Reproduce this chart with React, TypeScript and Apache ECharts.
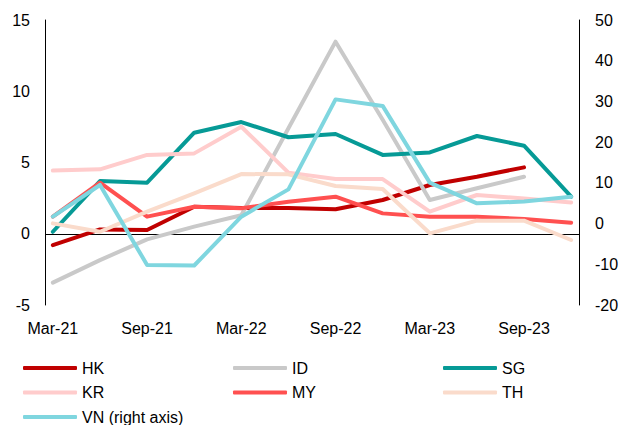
import React, { useEffect, useRef } from "react";
import * as echarts from "echarts";

const quarters = ["Mar-21","Jun-21","Sep-21","Dec-21","Mar-22","Jun-22","Sep-22","Dec-22","Mar-23","Jun-23","Sep-23","Dec-23"];
const monthNames = ["Jan","Feb","Mar","Apr","May","Jun","Jul","Aug","Sep","Oct","Nov","Dec"];

const HK = [-0.8, 0.3, 0.26, 1.9, 1.8, 1.8, 1.72, 2.37, 3.42, 4.0, 4.66, null];
const ID = [-3.43, -1.85, -0.39, 0.5, 1.3, 7.4, 13.48, 8.0, 2.37, 3.19, 4.0, null];
const SG = [0.14, 3.7, 3.58, 7.09, 7.84, 6.77, 7.0, 5.53, 5.71, 6.86, 6.18, 2.6];
const KR = [4.43, 4.52, 5.53, 5.64, 7.51, 4.29, 3.84, 3.84, 1.55, 2.72, 2.48, 2.2];
const MY = [1.2, 3.58, 1.2, 1.9, 1.79, 2.25, 2.6, 1.43, 1.2, 1.2, 1.04, 0.78];
const TH = [0.73, 0.14, 1.55, 2.84, 4.19, 4.17, 3.35, 3.14, 0.03, 0.92, 0.92, -0.44];
const VN = [1.7, 9.48, -10.17, -10.3, 1.7, 8.4, 30.5, 28.9, 10.05, 4.98, 5.4, 6.6];

const leftTicks = { min: -5, max: 15, interval: 5 };
const rightTicks = { min: -20, max: 50, interval: 10 };

// Monthly category axis from Mar-21 to Dec-23; quarterly values on quarter-end months.
const months: string[] = [];
for (let y = 21; y <= 23; y++) {
  for (let m = 0; m < 12; m++) {
    if (y === 21 && m < 2) continue;
    months.push(`${monthNames[m]}-${y}`);
  }
}
const toMonthly = (vals: (number | null)[]) =>
  months.map((mn) => {
    const qi = quarters.indexOf(mn);
    return qi >= 0 ? vals[qi] : null;
  });

const FONT = "'Liberation Sans', Arial, sans-serif";

const seriesDefs = [
  { name: "HK", data: HK, color: "#C00000", axis: 0 },
  { name: "ID", data: ID, color: "#C9C9C9", axis: 0 },
  { name: "SG", data: SG, color: "#069A96", axis: 0 },
  { name: "KR", data: KR, color: "#FFCCCC", axis: 0 },
  { name: "MY", data: MY, color: "#FF5050", axis: 0 },
  { name: "TH", data: TH, color: "#FADBCB", axis: 0 },
  { name: "VN (right axis)", data: VN, color: "#7FD6DF", axis: 1 },
];

export default function App() {
  const ref = useRef<HTMLDivElement>(null);
  useEffect(() => {
    if (!ref.current) return;
    const chart = echarts.init(ref.current, undefined, { renderer: "svg" });
    const legendBase = {
      orient: "vertical" as const,
      top: 360,
      icon: "roundRect",
      itemWidth: 54,
      itemHeight: 4,
      itemGap: 8.5,
      textStyle: { fontFamily: FONT, fontSize: 16, color: "#000", lineHeight: 16 },
      padding: 0,
    };
    chart.setOption({
      animation: false,
      grid: { left: 45, right: 50, top: 20, bottom: 120, containLabel: false },
      legend: [
        { ...legendBase, left: 23, data: ["HK", "KR", "VN (right axis)"] },
        { ...legendBase, left: 233, data: ["ID", "MY"] },
        { ...legendBase, left: 443, data: ["SG", "TH"] },
      ],
      xAxis: {
        type: "category",
        data: months,
        boundaryGap: true,
        axisLine: { show: false, onZero: false },
        axisTick: { show: false },
        axisLabel: {
          interval: 5,
          margin: 15,
          fontFamily: FONT,
          fontSize: 16,
          color: "#000",
        },
        splitLine: { show: false },
      },
      yAxis: [
        {
          type: "value",
          ...leftTicks,
          position: "left",
          axisLine: { show: true, lineStyle: { color: "#000", width: 1 } },
          axisTick: { show: false },
          splitLine: { show: false },
          axisLabel: { margin: 15, fontFamily: FONT, fontSize: 16, color: "#000" },
        },
        {
          type: "value",
          ...rightTicks,
          position: "right",
          axisLine: { show: true, lineStyle: { color: "#000", width: 1 } },
          axisTick: { show: false },
          splitLine: { show: false },
          axisLabel: { margin: 16, fontFamily: FONT, fontSize: 16, color: "#000" },
        },
      ],
      series: seriesDefs.map((s, i) => ({
        name: s.name,
        type: "line",
        yAxisIndex: s.axis,
        data: toMonthly(s.data),
        connectNulls: true,
        symbol: "none",
        color: s.color,
        itemStyle: { color: s.color },
        lineStyle: { color: s.color, width: 4, cap: "round", join: "round" },
        z: 3,
        ...(i === 0
          ? {
              markLine: {
                silent: true,
                symbol: ["none", "none"],
                label: { show: false },
                lineStyle: { color: "#000", width: 1, type: "solid" },
                data: [{ yAxis: 0 }],
                z: 1,
              },
            }
          : {}),
      })),
    });
    return () => chart.dispose();
  }, []);
  return (
    <div
      ref={ref}
      style={{ position: "absolute", left: 0, top: 0, width: 629, height: 425, background: "#fff" }}
    />
  );
}
